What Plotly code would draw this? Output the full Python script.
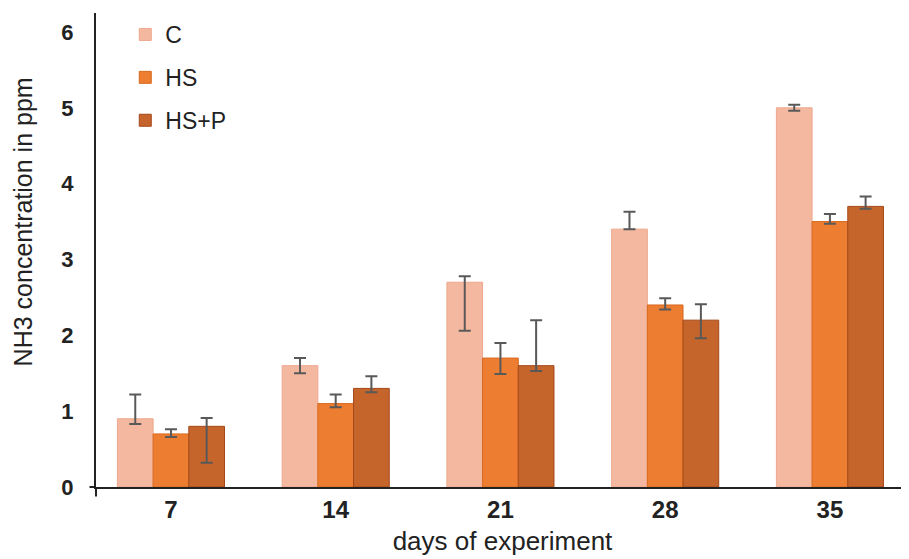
import plotly.graph_objects as go

days = ["7", "14", "21", "28", "35"]
series_names = ["C", "HS", "HS+P"]
values_C = [0.9, 1.6, 2.7, 3.4, 5.0]
values_HS = [0.7, 1.1, 1.7, 2.4, 3.5]
values_HSP = [0.8, 1.3, 1.6, 2.2, 3.7]
err_hi_C = [1.22, 1.70, 2.78, 3.63, 5.04]
err_lo_C = [0.83, 1.50, 2.06, 3.40, 4.96]
err_hi_HS = [0.76, 1.22, 1.90, 2.49, 3.60]
err_lo_HS = [0.66, 1.05, 1.49, 2.34, 3.47]
err_hi_HSP = [0.91, 1.46, 2.20, 2.41, 3.83]
err_lo_HSP = [0.32, 1.25, 1.53, 1.96, 3.67]

colors = ["#F4B8A0", "#ED7D31", "#C5642B"]
outlines = ["#EDA88D", "#D9691E", "#A4481A"]

xpos = list(range(len(days)))
fig = go.Figure()
for i, (name, vals, hi, lo) in enumerate([
    ("C", values_C, err_hi_C, err_lo_C),
    ("HS", values_HS, err_hi_HS, err_lo_HS),
    ("HS+P", values_HSP, err_hi_HSP, err_lo_HSP),
]):
    fig.add_trace(go.Bar(
        x=xpos, y=vals, name=name, legendgroup=name,
        marker=dict(color=colors[i], line=dict(color=outlines[i], width=1)),
        error_y=dict(type="data", symmetric=False,
                     array=[h - v for h, v in zip(hi, vals)],
                     arrayminus=[v - l for l, v in zip(lo, vals)],
                     color="#595959", thickness=2, width=6),
    ))

# page body has an 8px default margin, so the figure is sized/offset to compensate
fig.update_layout(
    width=901, height=551,
    margin=dict(l=88, r=0, t=5, b=72, autoexpand=False),
    plot_bgcolor="white", paper_bgcolor="white",
    barmode="group", bargap=0.35, bargroupgap=0,
    font=dict(family="Liberation Sans, Arial, sans-serif", color="#222"),
    showlegend=True,
    legend=dict(x=0.036, y=1.0, xanchor="left", yanchor="top",
                font=dict(size=23, color="#222"), traceorder="grouped",
                tracegroupgap=10, bgcolor="rgba(0,0,0,0)", itemwidth=30),
)
fig.update_xaxes(
    range=[-0.455, 4.48], tickmode="array", tickvals=xpos, ticktext=days,
    showline=True, linecolor="#222", linewidth=2, ticks="", automargin=False,
    tickfont=dict(size=24, weight="bold", color="#222"),
    showgrid=False, zeroline=False,
    title=dict(text="days of experiment", font=dict(size=26, color="#222"), standoff=10),
)
fig.update_yaxes(
    range=[0, 6.25], tickvals=[0, 1, 2, 3, 4, 5, 6],
    showline=True, linecolor="#222", linewidth=2, ticks="", automargin=False,
    ticklabelstandoff=16,
    tickfont=dict(size=22, weight="bold", color="#222"),
    showgrid=False, zeroline=False,
)
# small cross at the origin (axis line extension and zero tick)
fig.add_shape(type="line", xref="paper", yref="paper", x0=0, x1=0, y0=0, y1=-0.02,
              line=dict(color="#222", width=2))
fig.add_shape(type="line", xref="paper", yref="paper", x0=-0.008, x1=0, y0=0, y1=0,
              line=dict(color="#222", width=2))
fig.add_annotation(text="NH3 concentration in ppm", xref="paper", yref="paper",
                   x=-0.09, y=0.56, xanchor="center", yanchor="middle",
                   textangle=-90, showarrow=False,
                   font=dict(size=25, color="#222"))
fig.write_html("out.html")
